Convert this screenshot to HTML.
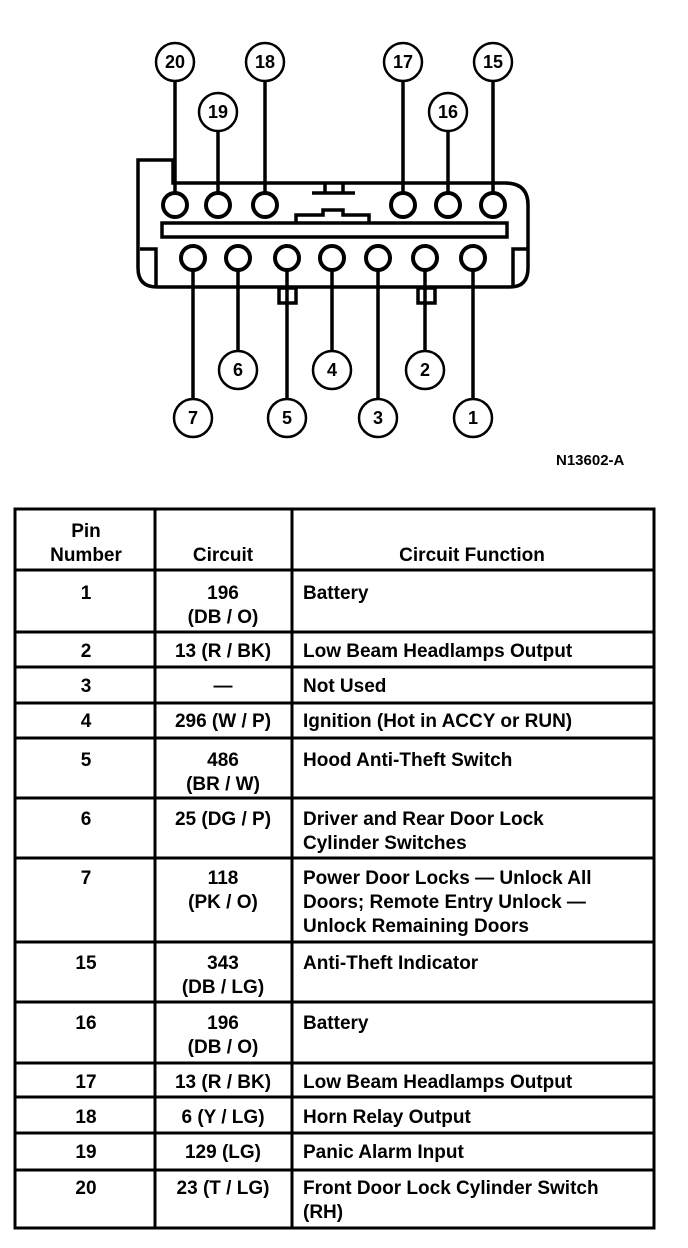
<!DOCTYPE html>
<html><head><meta charset="utf-8"><style>
html,body{margin:0;padding:0;background:#fff;}
svg{display:block;}
text{font-family:"Liberation Sans",Arial,sans-serif;font-weight:bold;fill:#000;}
</style></head><body>
<svg width="688" height="1248" viewBox="0 0 688 1248" xmlns="http://www.w3.org/2000/svg">
<g stroke="#000" stroke-width="3.5" fill="none">
 <path d="M173,160 L138,160 L138,268 Q138,287 157,287 L510,287 Q528,287 528,268 L528,205 Q528,183 505,183 L173,183 Z"/>
 <path d="M140,249 L156,249 L156,286"/>
 <path d="M527,249 L513,249 L513,286"/>
 <rect x="162" y="223" width="345" height="14"/>
 <path d="M312,193 L355,193 M325,184 L325,193 M343,184 L343,193"/>
 <path d="M296,222 L296,215 L323,215 L323,210 L343,210 L343,215 L369,215 L369,222"/>
 <rect x="279" y="288" width="17" height="15"/>
 <rect x="418" y="288" width="17" height="15"/>
 <path d="M175,82 V192 M218,132 V192 M265,82 V192 M403,82 V192 M448,132 V192 M493,82 V192"/>
 <path d="M193,270 V398 M238,270 V350 M287,270 V398 M332,270 V350 M378,270 V398 M425,270 V350 M473,270 V398"/>
 <g fill="#fff" stroke-width="4">
 <circle cx="175" cy="205" r="12"/><circle cx="218" cy="205" r="12"/><circle cx="265" cy="205" r="12"/>
 <circle cx="403" cy="205" r="12"/><circle cx="448" cy="205" r="12"/><circle cx="493" cy="205" r="12"/>
 <circle cx="193" cy="258" r="12"/><circle cx="238" cy="258" r="12"/><circle cx="287" cy="258" r="12"/>
 <circle cx="332" cy="258" r="12"/><circle cx="378" cy="258" r="12"/><circle cx="425" cy="258" r="12"/><circle cx="473" cy="258" r="12"/>
 </g>
 <g fill="#fff" stroke-width="2.5">
 <circle cx="175" cy="62" r="19"/><circle cx="265" cy="62" r="19"/><circle cx="403" cy="62" r="19"/><circle cx="493" cy="62" r="19"/>
 <circle cx="218" cy="112" r="19"/><circle cx="448" cy="112" r="19"/>
 <circle cx="238" cy="370" r="19"/><circle cx="332" cy="370" r="19"/><circle cx="425" cy="370" r="19"/>
 <circle cx="193" cy="418" r="19"/><circle cx="287" cy="418" r="19"/><circle cx="378" cy="418" r="19"/><circle cx="473" cy="418" r="19"/>
 </g>
</g>
<g font-size="18" text-anchor="middle">
 <text x="175" y="68">20</text><text x="265" y="68">18</text><text x="403" y="68">17</text><text x="493" y="68">15</text>
 <text x="218" y="118">19</text><text x="448" y="118">16</text>
 <text x="238" y="376">6</text><text x="332" y="376">4</text><text x="425" y="376">2</text>
 <text x="193" y="424">7</text><text x="287" y="424">5</text><text x="378" y="424">3</text><text x="473" y="424">1</text>
</g>
<text x="556" y="465" font-size="15">N13602-A</text>

<g stroke="#000" stroke-width="3" fill="none">
 <rect x="15" y="509" width="639" height="719"/>
 <path d="M155,509 V1228 M292,509 V1228"/>
 <path d="M15,570 H654 M15,632 H654 M15,667 H654 M15,703 H654 M15,738 H654 M15,798 H654 M15,858 H654 M15,942 H654 M15,1002 H654 M15,1063 H654 M15,1097 H654 M15,1133 H654 M15,1170 H654"/>
</g>
<g font-size="19">
 <g text-anchor="middle">
  <text x="86" y="537">Pin</text><text x="86" y="561">Number</text>
  <text x="223" y="561">Circuit</text><text x="472" y="561">Circuit Function</text>
  <text x="86" y="599">1</text><text x="223" y="599">196</text><text x="223" y="623">(DB / O)</text>
  <text x="86" y="657">2</text><text x="223" y="657">13 (R / BK)</text>
  <text x="86" y="692">3</text><text x="223" y="692">—</text>
  <text x="86" y="727">4</text><text x="223" y="727">296 (W / P)</text>
  <text x="86" y="766">5</text><text x="223" y="766">486</text><text x="223" y="790">(BR / W)</text>
  <text x="86" y="825">6</text><text x="223" y="825">25 (DG / P)</text>
  <text x="86" y="884">7</text><text x="223" y="884">118</text><text x="223" y="908">(PK / O)</text>
  <text x="86" y="969">15</text><text x="223" y="969">343</text><text x="223" y="993">(DB / LG)</text>
  <text x="86" y="1029">16</text><text x="223" y="1029">196</text><text x="223" y="1053">(DB / O)</text>
  <text x="86" y="1088">17</text><text x="223" y="1088">13 (R / BK)</text>
  <text x="86" y="1123">18</text><text x="223" y="1123">6 (Y / LG)</text>
  <text x="86" y="1158">19</text><text x="223" y="1158">129 (LG)</text>
  <text x="86" y="1194">20</text><text x="223" y="1194">23 (T / LG)</text>
 </g>
 <g>
  <text x="303" y="599">Battery</text>
  <text x="303" y="657">Low Beam Headlamps Output</text>
  <text x="303" y="692">Not Used</text>
  <text x="303" y="727">Ignition (Hot in ACCY or RUN)</text>
  <text x="303" y="766">Hood Anti-Theft Switch</text>
  <text x="303" y="825">Driver and Rear Door Lock</text>
  <text x="303" y="849">Cylinder Switches</text>
  <text x="303" y="884">Power Door Locks — Unlock All</text>
  <text x="303" y="908">Doors; Remote Entry Unlock —</text>
  <text x="303" y="932">Unlock Remaining Doors</text>
  <text x="303" y="969">Anti-Theft Indicator</text>
  <text x="303" y="1029">Battery</text>
  <text x="303" y="1088">Low Beam Headlamps Output</text>
  <text x="303" y="1123">Horn Relay Output</text>
  <text x="303" y="1158">Panic Alarm Input</text>
  <text x="303" y="1194">Front Door Lock Cylinder Switch</text>
  <text x="303" y="1218">(RH)</text>
 </g>
</g>
</svg>
</body></html>
